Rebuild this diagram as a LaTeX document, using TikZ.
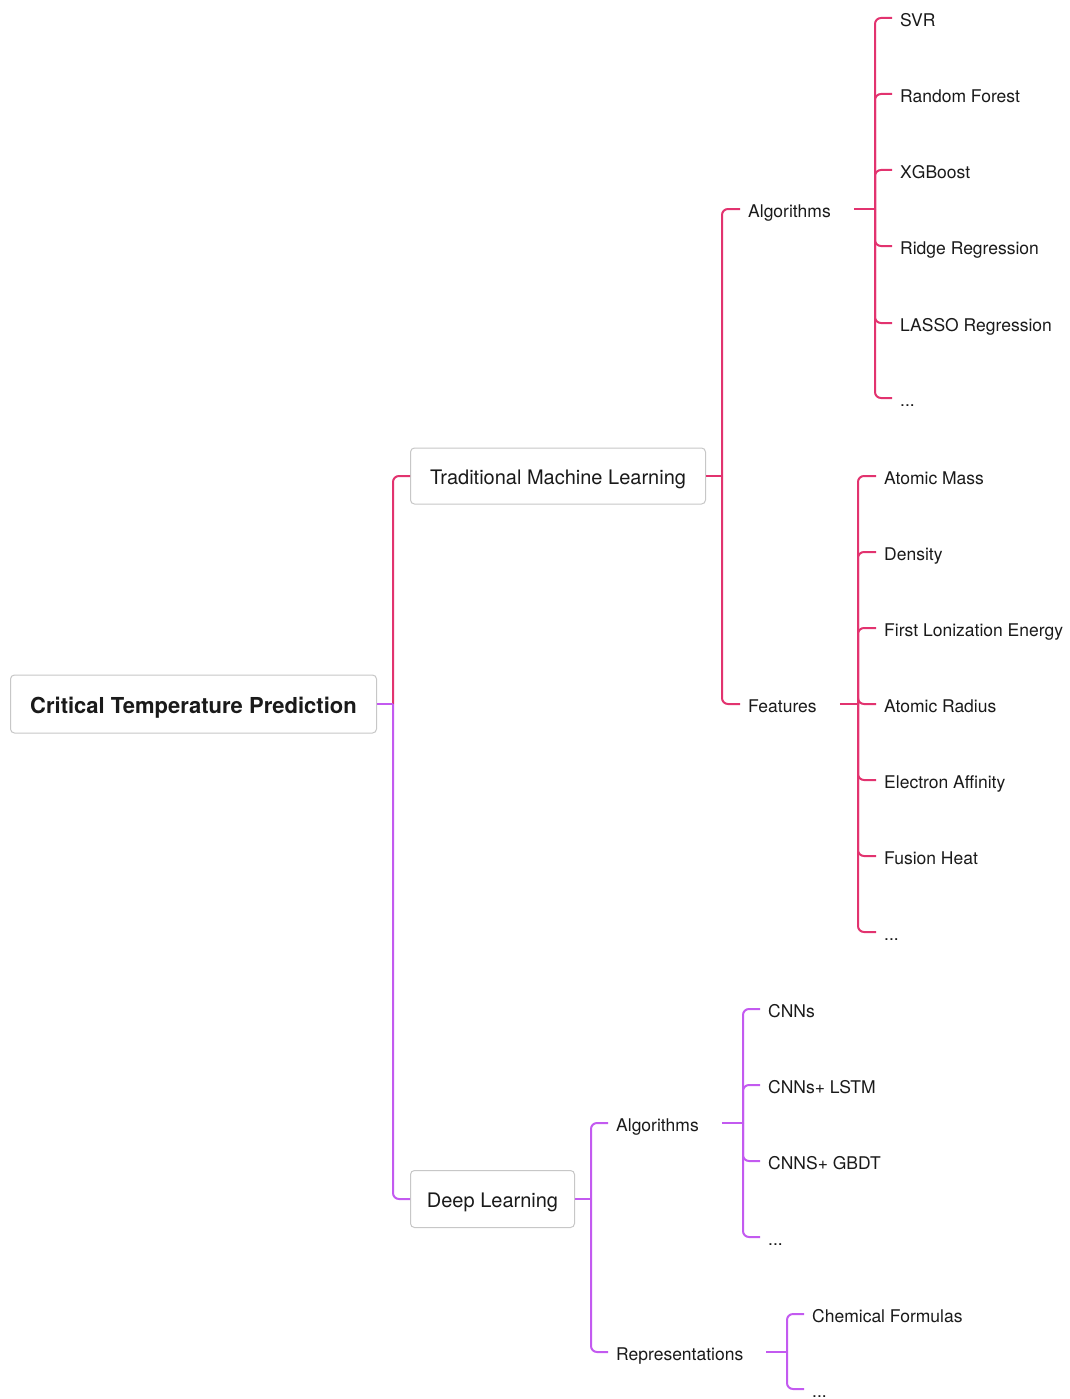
\documentclass[tikz,border=0pt]{standalone}
\usepackage{fontspec}
\setmainfont{TeX Gyre Heros}
\definecolor{pk}{HTML}{E2336F}
\definecolor{pu}{HTML}{C35AF0}
\definecolor{txt}{HTML}{1A1A1A}
\begin{document}
\begin{tikzpicture}[x=1pt,y=-1pt,
 lbl/.style={anchor=west, inner xsep=8pt, inner ysep=0pt, text height=17.6pt, text depth=0pt, font=\fontsize{17.5}{20}\selectfont, text=txt},
 box/.style={draw=black!22, line width=1pt, rounded corners=4pt, fill=white, anchor=west, inner xsep=0pt, inner ysep=0pt, text depth=0pt, text=txt},
 pkl/.style={draw=pk, line width=2pt, rounded corners=6pt},
 pul/.style={draw=pu, line width=2pt, rounded corners=6pt},
]
\useasboundingbox (0,0) rectangle (1069,1399);
% boxes
\node[box, text height=19.2pt, minimum width=366pt, minimum height=58pt, font=\bfseries\fontsize{22}{26}\selectfont] (root) at (10,704) {Critical Temperature Prediction};
\node[box, text height=16.4pt, minimum width=295pt, minimum height=56pt, font=\fontsize{20}{24}\selectfont] (tml) at (410,476) {Traditional Machine Learning};
\node[box, text height=16.4pt, minimum width=164pt, minimum height=57pt, font=\fontsize{20}{24}\selectfont] (dl) at (410,1199) {Deep Learning};
% junctions
\coordinate (j0) at (393,704);
\coordinate (jt) at (722,476);
\coordinate (ja) at (875,209);
\coordinate (jf) at (858,704);
\coordinate (jd) at (591,1199);
\coordinate (jda) at (743,1123);
\coordinate (jdr) at (787,1352);
% mid nodes
\node[lbl] (alg1) at (740,209) {Algorithms};
\node[lbl] (feat) at (740,704) {Features};
\node[lbl] (alg2) at (608,1123) {Algorithms};
\node[lbl] (repr) at (608,1352) {Representations};
% leaves TML algorithms
\node[lbl] (svr) at (892,18) {SVR};
\node[lbl] (rf) at (892,94) {Random Forest};
\node[lbl] (xgb) at (892,170) {XGBoost};
\node[lbl] (ridge) at (892,246) {Ridge Regression};
\node[lbl] (lasso) at (892,323) {LASSO Regression};
\node[lbl] (d1) at (892,398) {...};
% leaves features
\node[lbl] (am) at (876,476) {Atomic Mass};
\node[lbl] (den) at (876,552) {Density};
\node[lbl] (fie) at (876,628) {First Lonization Energy};
\node[lbl] (ar) at (876,704) {Atomic Radius};
\node[lbl] (ea) at (876,780) {Electron Affinity};
\node[lbl] (fh) at (876,856) {Fusion Heat};
\node[lbl] (d2) at (876,932) {...};
% leaves DL algorithms
\node[lbl] (cnn) at (760,1009) {CNNs};
\node[lbl] (cl) at (760,1085) {CNNs+ LSTM};
\node[lbl] (cg) at (760,1161) {CNNS+ GBDT};
\node[lbl] (d3) at (760,1237) {...};
% leaves representations
\node[lbl] (chem) at (804,1314) {Chemical Formulas};
\node[lbl] (d4) at (804,1389) {...};
% connectors level 1
\draw[pkl] (j0) |- (tml.west);
\draw[pul] (j0) |- (dl.west);
\draw[pul] (root.east) -- (j0);
% TML
\draw[pkl] (tml.east) -- (jt);
\draw[pkl] (jt) |- (alg1.west);
\draw[pkl] (jt) |- (feat.west);
\draw[pkl, shorten <=15pt] (alg1.east) -- (ja);
\foreach \n in {svr,rf,xgb,ridge,lasso,d1} \draw[pkl] (ja) |- (\n.west);
\draw[pkl, shorten <=15pt] (feat.east) -- (jf);
\foreach \n in {am,den,fie,ar,ea,fh,d2} \draw[pkl] (jf) |- (\n.west);
% DL
\draw[pul] (dl.east) -- (jd);
\draw[pul] (jd) |- (alg2.west);
\draw[pul] (jd) |- (repr.west);
\draw[pul, shorten <=15pt] (alg2.east) -- (jda);
\foreach \n in {cnn,cl,cg,d3} \draw[pul] (jda) |- (\n.west);
\draw[pul, shorten <=15pt] (repr.east) -- (jdr);
\foreach \n in {chem,d4} \draw[pul] (jdr) |- (\n.west);
\end{tikzpicture}
\end{document}
